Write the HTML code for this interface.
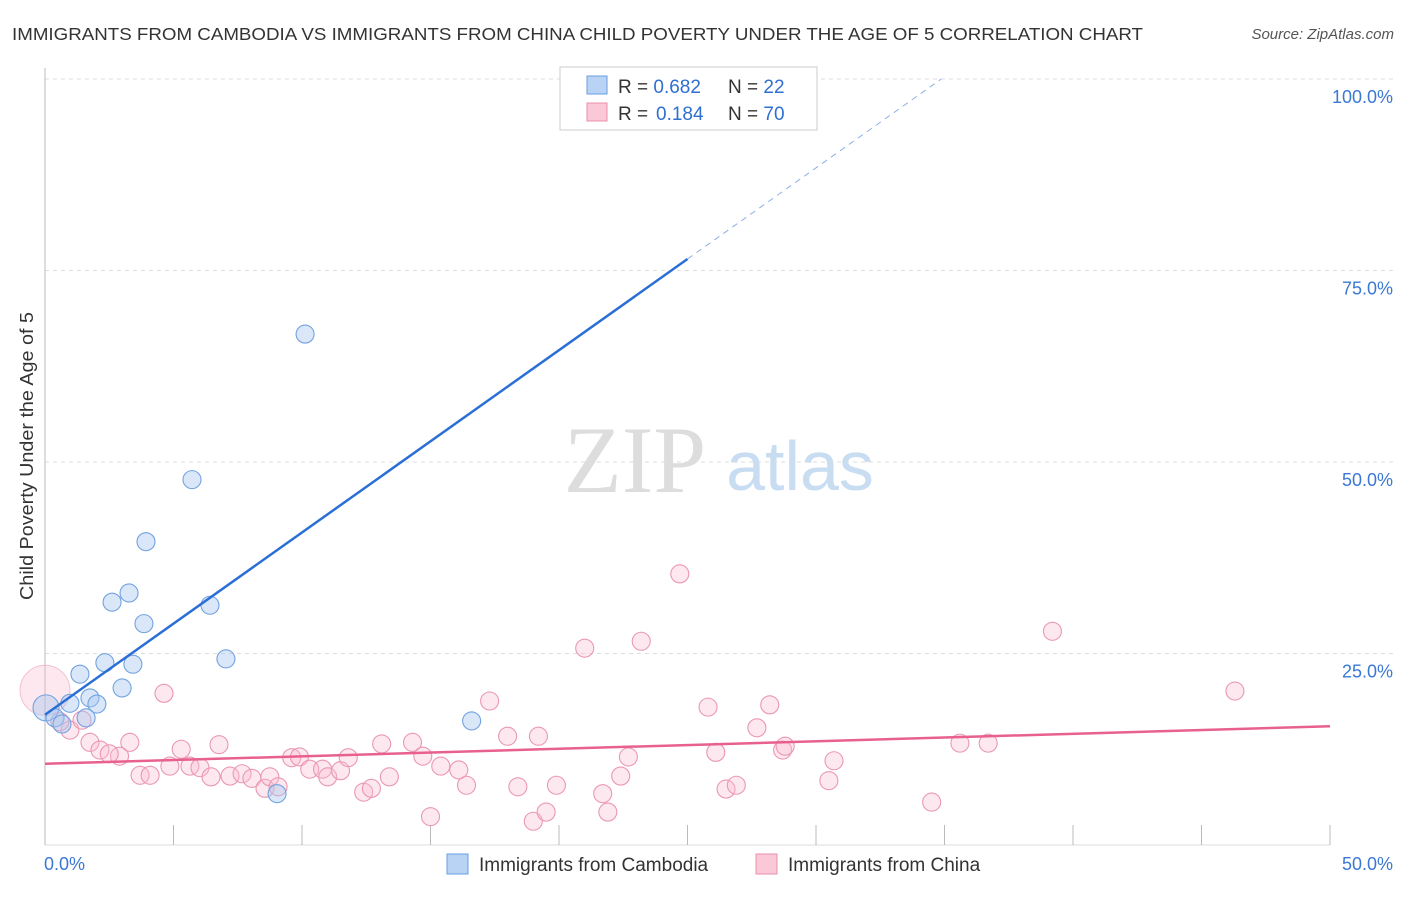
<!DOCTYPE html>
<html><head><meta charset="utf-8"><style>
body{margin:0;background:#fff;font-family:"Liberation Sans",sans-serif}
svg text{font-family:"Liberation Sans",sans-serif}
</style></head><body>
<svg id="c" width="1406" height="892" xmlns="http://www.w3.org/2000/svg">
<text x="12" y="40" font-size="17.5" fill="#333" textLength="1131" lengthAdjust="spacingAndGlyphs">IMMIGRANTS FROM CAMBODIA VS IMMIGRANTS FROM CHINA CHILD POVERTY UNDER THE AGE OF 5 CORRELATION CHART</text>
<text x="1394" y="39" font-size="15" fill="#555" font-style="italic" text-anchor="end">Source: ZipAtlas.com</text>
<text x="635" y="492" font-size="95" fill="#ddd" text-anchor="middle" style="font-family:'Liberation Serif',serif">ZIP</text>
<text x="800" y="490" font-size="70" fill="#c8dcf2" text-anchor="middle">atlas</text>
<text transform="translate(33,456) rotate(-90)" font-size="18" fill="#333" text-anchor="middle" textLength="288" lengthAdjust="spacingAndGlyphs">Child Poverty Under the Age of 5</text>
<g id="grid"></g><g id="marks"></g>
<rect x="560" y="67" width="257" height="63" fill="#fff" stroke="#ccc"/>
<rect x="587" y="76" width="20" height="18" fill="#b8d3f4" stroke="#6a9ee0"/>
<rect x="587" y="103" width="20" height="18" fill="#fac8d6" stroke="#e890aa"/>
<text x="618" y="93" font-size="19" fill="#333">R = <tspan fill="#2f6fd0">0.682</tspan><tspan x="728">N = </tspan><tspan fill="#2f6fd0">22</tspan></text>
<text x="618" y="120" font-size="19" fill="#333">R = <tspan fill="#2f6fd0" x="656">0.184</tspan><tspan x="728">N = </tspan><tspan fill="#2f6fd0">70</tspan></text>
<rect x="447" y="854" width="21" height="20" fill="#b8d3f4" stroke="#6a9ee0"/>
<text x="479" y="871" font-size="19" fill="#333">Immigrants from Cambodia</text>
<rect x="756" y="854" width="21" height="20" fill="#fac8d6" stroke="#e890aa"/>
<text x="788" y="871" font-size="19" fill="#333">Immigrants from China</text>
</svg>
<script>
const xTicks=[0,5,10,15,20,25,30,35,40,45,50];
const yTicks=[25,50,75,100];
const yTickLabels=["25.0%","50.0%","75.0%","100.0%"];
const xEndLabels=["0.0%","50.0%"];
const camX=[10.12,5.72,3.93,3.27,2.61,6.42,3.85,7.04,2.33,3.42,1.36,3.0,1.75,0.97,2.02,16.6,0.04,0.39,1.6,0.66,9.03,24.55];
const camY=[66.7,47.7,39.6,32.9,31.7,31.3,28.9,24.3,23.8,23.6,22.3,20.5,19.2,18.5,18.4,16.2,17.9,16.6,16.6,15.8,6.7,100];
const chX=[0.97,0.58,1.44,4.63,24.7,23.2,21.0,39.2,46.3,17.3,25.8,28.2,1.75,3.3,2.14,2.9,2.5,5.3,6.77,3.7,4.09,4.86,5.64,6.03,6.46,7.2,7.67,8.05,8.56,8.75,9.07,9.6,9.9,10.3,10.8,11.0,11.5,11.8,12.4,12.7,13.1,13.4,14.3,14.7,15.4,16.1,16.4,15.0,18.0,18.4,19.0,19.2,19.5,19.9,21.7,21.9,22.4,22.7,26.5,26.9,26.1,27.7,28.7,28.8,30.5,30.7,34.5,35.6,36.7];
const chY=[15.0,16.1,16.3,19.8,35.4,26.6,25.7,27.9,20.1,18.8,18.0,18.3,13.4,13.4,12.4,11.6,11.9,12.5,13.1,9.1,9.1,10.3,10.3,10.1,8.9,9.0,9.3,8.7,7.4,8.9,7.6,11.4,11.5,9.9,9.9,8.9,9.7,11.4,6.9,7.4,13.2,8.9,13.4,11.6,10.3,9.8,7.8,3.7,14.2,7.6,3.1,14.2,4.3,7.8,6.7,4.3,9.0,11.5,7.3,7.8,12.1,15.3,12.4,12.9,8.4,11.0,5.6,13.3,13.3];
const camLine=[17.0,2.38];
const chLine=[10.6,0.098];
const NS="http://www.w3.org/2000/svg";
const X=v=>45+v*25.7, Y=v=>845-v*7.66;
function mk(p,t,a){const e=document.createElementNS(NS,t);for(const k in a)e.setAttribute(k,a[k]);p.appendChild(e);return e;}
const g=document.getElementById('grid'),m=document.getElementById('marks');
yTicks.forEach((t,i)=>{
 const l=mk(g,'line',{x1:45,x2:1393,y1:Y(t),y2:Y(t),stroke:'#ddd','stroke-dasharray':'4,4'});
 
 
 const tx=mk(g,'text',{x:1393,y:Y(t)+24,'font-size':18,fill:'#3a78d4','text-anchor':'end'});tx.textContent=yTickLabels[i];
 
 
});
const ax=mk(g,'line',{x1:45,x2:45,y1:68,y2:845,stroke:'#bbb'});


const bx=mk(g,'line',{x1:45,x2:1330,y1:845,y2:845,stroke:'#ddd'});


xTicks.forEach(t=>{const l=mk(g,'line',{x1:X(t),x2:X(t),y1:825,y2:845,stroke:'#bbb'});
 
 });
[[0,'start',xEndLabels[0],44],[50,'end',xEndLabels[1],1393]].forEach(a=>{const tx=mk(g,'text',{x:a[3],y:870,'font-size':18,fill:'#3a78d4','text-anchor':a[1]});tx.textContent=a[2];
 
 });
let big=mk(m,'circle',{cx:X(0),cy:Y(20.2),r:25,fill:'rgba(245,180,200,0.3)',stroke:'rgba(232,144,170,0.5)'});


chX.forEach((x,i)=>{const c=mk(m,'circle',{cx:X(x),cy:Y(chY[i]),r:9,fill:'rgba(248,190,208,0.35)',stroke:'#ea98b2','stroke-width':1.1});
 
 });
camX.forEach((x,i)=>{const c=mk(m,'circle',{cx:X(x),cy:Y(camY[i]),r:(i==16?13:9),fill:'rgba(165,198,240,0.42)',stroke:'#72a2e0','stroke-width':1.1});
 
 });
const l1=mk(m,'line',{x1:X(0),y1:Y(camLine[0]),x2:X(25),y2:Y(camLine[0]+camLine[1]*25),stroke:'#2a6fd6','stroke-width':2.5});


const xe=(100-camLine[0])/camLine[1];
const l2=mk(m,'line',{x1:X(25),y1:Y(camLine[0]+camLine[1]*25),x2:X(xe),y2:Y(100),stroke:'#8ab0e6','stroke-width':1,'stroke-dasharray':'6,5'});


const l3=mk(m,'line',{x1:X(0),y1:Y(chLine[0]),x2:X(50),y2:Y(chLine[0]+chLine[1]*50),stroke:'#e8608e','stroke-width':2.5});


</script>
</body></html>
